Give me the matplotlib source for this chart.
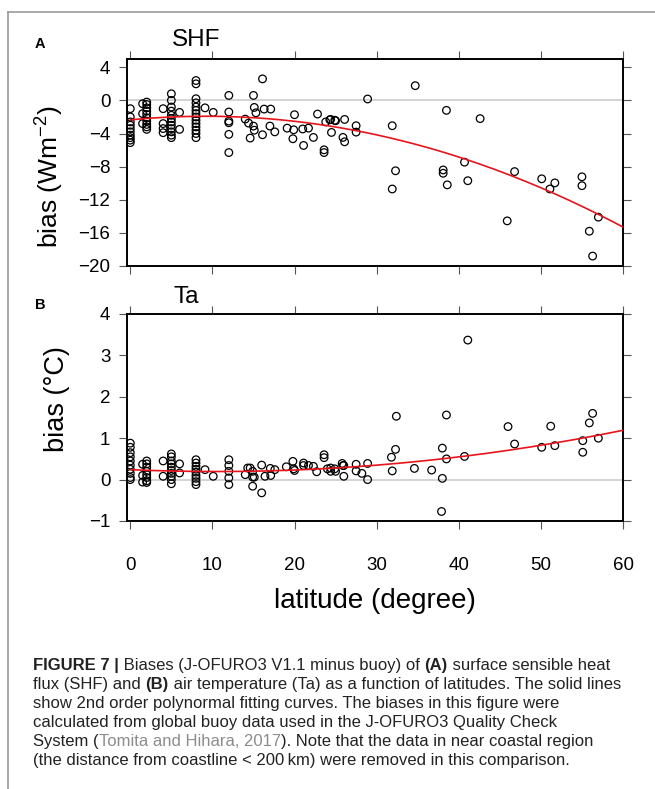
import numpy as np
import matplotlib
matplotlib.use("Agg")
import matplotlib.pyplot as plt
from matplotlib.lines import Line2D

plt.rcParams['font.family'] = ['Liberation Sans', 'DejaVu Sans']

# --- data (latitude, bias) ---
shf_lat = [0, 0, 0, 0, 0, 0, 0, 0, 0, 0,
           1.5, 1.5, 1.5,
           2, 2, 2, 2, 2, 2, 2, 2, 2, 2,
           4, 4, 4, 4,
           5, 5, 5, 5, 5, 5, 5, 5, 5, 5, 5, 5,
           6, 6,
           8, 8, 8, 8, 8, 8, 8, 8, 8, 8, 8, 8, 8, 8,
           9.1, 10.1,
           12, 12, 12, 12, 12, 12,
           16.1, 15.0, 15.1, 15.3, 16.3, 17.1, 14.0, 14.4, 15.0, 15.1, 14.6, 16.1,
           17.0, 17.6, 19.1, 20.0, 19.9, 19.8, 21.0, 21.7, 21.1, 22.3, 22.8,
           23.6, 23.6, 23.8, 24.3, 24.9, 24.4, 25.0, 24.5, 26.1, 25.9, 26.1,
           27.5, 27.5, 28.9, 31.9, 32.3, 31.9, 34.7, 38.1, 38.1, 38.5, 38.6,
           40.7, 41.1, 42.6, 45.9, 46.8, 50.1, 51.1, 51.7, 55.0, 55.0, 55.9,
           56.3, 57.0]
shf_bias = [-1.0, -2.0, -2.6, -3.0, -3.4, -3.8, -4.2, -4.5, -4.8, -5.1,
            -0.4, -1.6, -2.8,
            -0.2, -0.5, -0.9, -1.3, -1.7, -2.1, -2.5, -2.9, -3.2, -3.5,
            -1.0, -2.8, -3.4, -3.9,
            0.8, 0.0, -0.8, -1.3, -1.8, -2.2, -2.6, -3.0, -3.4, -3.8, -4.2, -4.5,
            -1.45, -3.5,
            2.4, 2.0, 0.2, -0.3, -0.8, -1.2, -1.6, -2.0, -2.4, -2.8, -3.2, -3.6, -4.0, -4.5,
            -0.9, -1.45,
            0.6, -1.4, -2.5, -2.7, -4.1, -6.3,
            2.6, 0.6, -0.85, -1.5, -1.05, -1.05, -2.26, -2.74, -3.1, -3.6, -4.55, -4.15,
            -3.1, -3.8, -3.35, -1.73, -3.55, -4.63, -3.45, -3.35, -5.44, -4.47, -1.65,
            -5.97, -6.3, -2.6, -2.34, -2.4, -2.3, -2.46, -3.87, -2.3, -4.47, -5.0,
            -3.06, -3.83, 0.17, -3.06, -8.5, -10.7, 1.78, -8.4, -8.8, -1.2, -10.2,
            -7.46, -9.7, -2.2, -14.55, -8.6, -9.47, -10.7, -9.96, -9.23, -10.3, -15.8,
            -18.8, -14.1]

ta_lat = [0, 0, 0, 0, 0, 0, 0, 0, 0, 0,
          1.5, 1.5, 1.5,
          2, 2, 2, 2, 2, 2, 2, 2,
          4, 4,
          5, 5, 5, 5, 5, 5, 5, 5, 5, 5,
          6, 6,
          8, 8, 8, 8, 8, 8, 8, 8, 8,
          9.1, 10.1,
          12, 12, 12, 12, 12,
          14.0, 14.3, 14.6, 14.9, 14.9, 15.1, 14.9, 16.0, 16.0, 16.4, 17.05, 17.1,
          17.6, 19.0, 19.8, 19.9, 20.0, 21.1, 21.1, 21.7, 22.3, 22.7, 23.6, 23.6,
          24.0, 24.4, 24.4, 24.9, 25.0, 25.8, 25.9, 26.0, 26.0, 27.5, 27.5, 28.2,
          28.9, 28.9, 31.8, 32.3, 31.9, 32.4, 34.6, 36.7, 38.0, 38.0, 37.9, 38.5,
          38.5, 40.7, 41.1, 46.0, 46.8, 50.1, 51.2, 51.7, 55.1, 55.1, 55.9, 56.3,
          57.0]
ta_bias = [0.88, 0.78, 0.65, 0.55, 0.45, 0.35, 0.25, 0.15, 0.05, 0.0,
           0.37, 0.1, -0.06,
           0.45, 0.38, 0.3, 0.2, 0.12, 0.05, -0.03, -0.07,
           0.45, 0.08,
           0.62, 0.55, 0.45, 0.38, 0.3, 0.22, 0.15, 0.08, 0.0, -0.1,
           0.38, 0.16,
           0.48, 0.4, 0.32, 0.25, 0.18, 0.1, 0.03, -0.05, -0.12,
           0.24, 0.08,
           0.48, 0.34, 0.2, 0.04, -0.12,
           0.12, 0.28, 0.28, 0.2, 0.06, 0.06, -0.16, -0.32, 0.35, 0.08, 0.27, 0.1,
           0.24, 0.31, 0.44, 0.26, 0.22, 0.4, 0.34, 0.34, 0.32, 0.19, 0.6, 0.53,
           0.26, 0.28, 0.2, 0.26, 0.2, 0.39, 0.34, 0.34, 0.08, 0.37, 0.21, 0.15,
           0.39, 0.0, 0.54, 0.73, 0.21, 1.53, 0.27, 0.23, 0.76, 0.03, -0.77, 1.56,
           0.5, 0.56, 3.37, 1.28, 0.86, 0.78, 1.29, 0.82, 0.94, 0.66, 1.37, 1.6,
           1.0]

# 2nd-order fit curves as drawn in the figure (c2, c1, c0)
shf_fit = [-0.00518, 0.095, -2.35]
ta_fit = [0.000407, -0.00857, 0.24]

lat_ticks = [0, 10, 20, 30, 40, 50, 60]
shf_ticks = [4, 0, -4, -8, -12, -16, -20]
ta_ticks = [4, 3, 2, 1, 0, -1]

W, H = 655, 789
fig = plt.figure(figsize=(W / 100, H / 100), dpi=100)


def px_axes(left, top, right, bottom):
    return fig.add_axes([left / W, 1 - bottom / H, (right - left) / W, (bottom - top) / H])


def style_panel(ax, yticks, ylim, show_xlabels):
    ax.set_xlim(-0.4, 60)
    ax.set_ylim(*ylim)
    ax.set_xticks(lat_ticks)
    ax.set_yticks(yticks)
    ax.set_yticklabels([str(v).replace('-', '\u2212') for v in yticks])
    ax.tick_params(direction='out', length=6, width=0.8, color='#555555',
                   labelsize=13.5, top=True, right=True,
                   labelbottom=show_xlabels)
    ax.tick_params(axis='y', pad=6)
    ax.tick_params(axis='x', pad=20)
    for s in ax.spines.values():
        s.set_linewidth(1.4)
    ax.axhline(0, color='#cccccc', lw=1.2, zorder=1)


def draw_panel(ax, lat, bias, fit):
    ax.scatter(lat, bias, s=30, facecolors='none', edgecolors='black',
               linewidths=0.9, zorder=3)
    xx = np.linspace(0, 60, 200)
    ax.plot(xx, np.polyval(fit, xx), color='#e8141c', lw=1.2, zorder=4)


ax1 = px_axes(127, 59, 623, 266)
style_panel(ax1, shf_ticks, (-20, 5), False)
draw_panel(ax1, shf_lat, shf_bias, shf_fit)

ax2 = px_axes(127, 314, 623, 521)
style_panel(ax2, ta_ticks, (-1, 4), True)
draw_panel(ax2, ta_lat, ta_bias, ta_fit)


def fxy(x, y):
    return x / W, 1 - y / H


# panel labels and titles
fig.text(*fxy(40, 44), 'A', fontsize=10.5, fontweight='bold', ha='center', va='center')
fig.text(*fxy(196, 40), 'SHF', fontsize=17.5, ha='center', va='center')
fig.text(*fxy(40, 305), 'B', fontsize=10.5, fontweight='bold', ha='center', va='center')
fig.text(*fxy(186, 297), 'Ta', fontsize=17.5, ha='center', va='center')

fig.text(*fxy(49, 177), 'bias (Wm$^{\\mathregular{-2}}$)', fontsize=19, rotation=90,
         ha='center', va='center')
fig.text(*fxy(57, 399), 'bias (\u00b0C)', fontsize=19.5, rotation=90,
         ha='center', va='center')
fig.text(*fxy(375, 601), 'latitude (degree)', fontsize=20, ha='center', va='center')

# caption, drawn run by run so bold / grey parts can sit inline
renderer = fig.canvas.get_renderer()
cap_size = 12.0
cap_color = '#222222'


def draw_runs(x, y, runs):
    cx = x
    for txt, weight, color in runs:
        t = fig.text(cx / W, 1 - y / H, txt, fontsize=cap_size, fontweight=weight,
                     color=color, ha='left', va='baseline')
        cx += t.get_window_extent(renderer).width


base_y = 670
step = 19
caption = [
    [('FIGURE 7 |', 'bold', cap_color), (' Biases (J-OFURO3 V1.1 minus buoy) of ', 'normal', cap_color),
     ('(A)', 'bold', cap_color), (' surface sensible heat', 'normal', cap_color)],
    [('flux (SHF) and ', 'normal', cap_color), ('(B)', 'bold', cap_color),
     (' air temperature (Ta) as a function of latitudes. The solid lines', 'normal', cap_color)],
    [('show 2nd order polynormal fitting curves. The biases in this figure were', 'normal', cap_color)],
    [('calculated from global buoy data used in the J-OFURO3 Quality Check', 'normal', cap_color)],
    [('System (', 'normal', cap_color), ('Tomita and Hihara, 2017', 'normal', '#8c8c8c'),
     ('). Note that the data in near coastal region', 'normal', cap_color)],
    [('(the distance from coastline < 200\u2009km) were removed in this comparison.', 'normal', cap_color)],
]
for i, runs in enumerate(caption):
    draw_runs(33, base_y + i * step, runs)

# grey frame (left and top edges)
fig.add_artist(Line2D([8 / W, 8 / W], [1 - 12 / H, 0], color='#999999', lw=1.2))
fig.add_artist(Line2D([8 / W, 1], [1 - 12 / H, 1 - 12 / H], color='#999999', lw=1.2))

fig.savefig('out.png', dpi=100)
